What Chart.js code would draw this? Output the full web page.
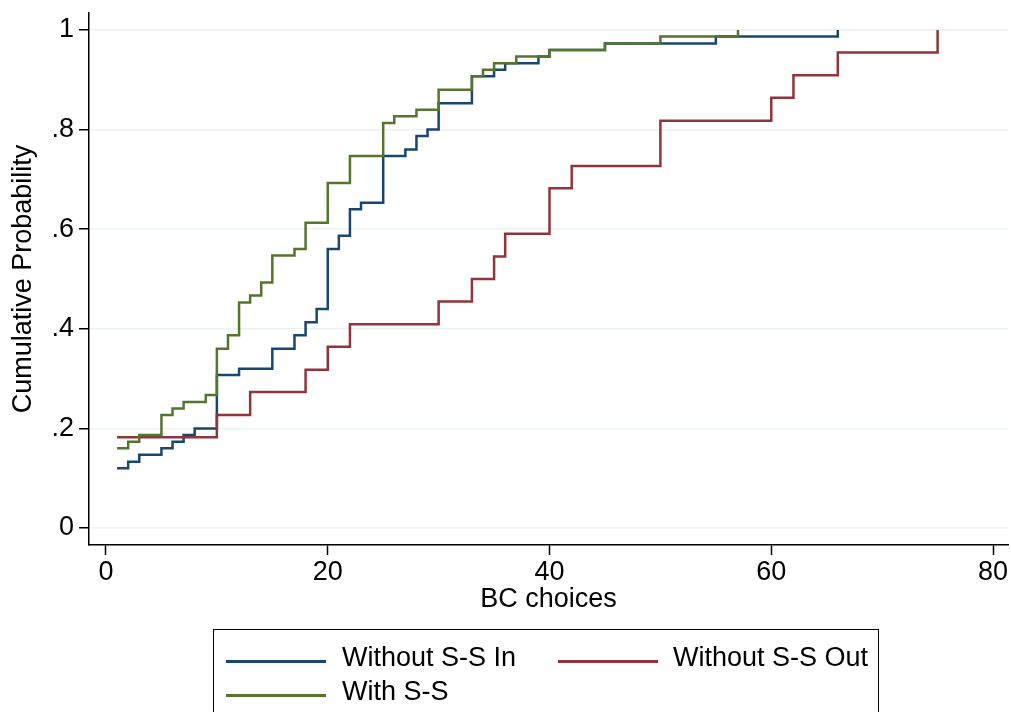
<!DOCTYPE html>
<html>
<head>
<meta charset="utf-8">
<script src="https://cdn.jsdelivr.net/npm/chart.js@4"></script>
<style>
  html, body { margin: 0; padding: 0; background: #fff; overflow: hidden; }
  #wrap { position: relative; width: 1011px; height: 712px; font-family: "Liberation Sans", Arial, sans-serif; }
  #chart { position: absolute; left: 0; top: 0; }
  #legend { position: absolute; left: 213px; top: 629px; width: 666px; height: 120px; border: 1.5px solid #000; box-sizing: border-box; }
  .swatch { position: absolute; height: 2.5px; width: 100px; }
  .lbl { position: absolute; font-size: 27px; line-height: 34px; color: #000; white-space: nowrap; }
</style>
</head>
<body>
<div id="wrap">
  <canvas id="chart" width="1011" height="712"></canvas>
  <div id="legend"></div>
</div>
<script>
// --- datos (CDF empírica por grupo) ---
const xTicks = [0, 20, 40, 60, 80];
const yTicks = [0, 0.2, 0.4, 0.6, 0.8, 1];
const yTickLabels = ['0', '.2', '.4', '.6', '.8', '1'];

const seriesNames = ['Without S-S In', 'Without S-S Out', 'With S-S'];
const seriesColors = ['#1a476f', '#90353b', '#55752f'];

// Without S-S In
const inX = [1, 2, 3, 5, 6, 7, 8, 10, 12, 15, 17, 18, 19, 20, 21, 22, 23, 25, 27, 28, 29, 30, 33, 35, 36, 39, 40, 45, 55, 66];
const inY = [0.12, 0.133, 0.147, 0.16, 0.173, 0.187, 0.2, 0.307, 0.32, 0.36, 0.387, 0.413, 0.44, 0.56, 0.587, 0.64, 0.653, 0.747, 0.76, 0.787, 0.8, 0.853, 0.907, 0.92, 0.933, 0.947, 0.96, 0.973, 0.987, 1];

// Without S-S Out
const outX = [1, 10, 13, 18, 20, 22, 30, 33, 35, 36, 40, 42, 50, 60, 62, 66, 75];
const outY = [0.182, 0.227, 0.273, 0.318, 0.364, 0.409, 0.455, 0.5, 0.545, 0.591, 0.682, 0.727, 0.818, 0.864, 0.909, 0.955, 1];

// With S-S
const withX = [1, 2, 3, 5, 6, 7, 9, 10, 11, 12, 13, 14, 15, 17, 18, 20, 22, 25, 26, 28, 30, 33, 34, 35, 37, 40, 45, 50, 57];
const withY = [0.16, 0.173, 0.187, 0.227, 0.24, 0.253, 0.267, 0.36, 0.387, 0.453, 0.467, 0.493, 0.547, 0.56, 0.613, 0.693, 0.747, 0.813, 0.827, 0.84, 0.88, 0.907, 0.92, 0.933, 0.947, 0.96, 0.973, 0.987, 1];

const FONT = '"Liberation Sans", Arial, sans-serif';

function puntos(xs, ys) {
    return xs.map((x, i) => ({ x: x, y: ys[i] }));
}

function serie(i, xs, ys, orden) {
    return {
        label: seriesNames[i],
        data: puntos(xs, ys),
        borderColor: seriesColors[i],
        borderWidth: 2.5,
        pointRadius: 0,
        stepped: true,
        fill: false,
        order: orden
    };
}

// sin relleno extra por la mitad de las etiquetas en los extremos
function sinPadding(s) {
    s.paddingTop = 0;
    s.paddingBottom = 0;
    s.paddingLeft = 0;
    s.paddingRight = 0;
}

new Chart(document.getElementById('chart'), {
    type: 'line',
    data: {
        datasets: [
            serie(0, inX, inY, 2),
            serie(1, outX, outY, 1),
            serie(2, withX, withY, 0)
        ]
    },
    options: {
        responsive: false,
        animation: false,
        layout: { padding: { left: 0, right: 3, top: 13, bottom: 95 } },
        plugins: { legend: { display: false }, tooltip: { enabled: false } },
        scales: {
            x: {
                type: 'linear',
                min: -1.533,
                max: 81.35,
                afterFit: s => { s.height = 72; sinPadding(s); },
                afterBuildTicks: s => { s.ticks = xTicks.map(v => ({ value: v })); },
                border: { display: true, color: '#000', width: 1.5 },
                grid: { drawOnChartArea: false, drawTicks: true, tickLength: 10, tickColor: '#000', tickWidth: 1.5 },
                ticks: { padding: 1, color: '#000', font: { family: FONT, size: 27 }, maxRotation: 0, autoSkip: false },
                title: { display: true, text: 'BC choices', color: '#000', font: { family: FONT, size: 27 }, padding: { top: 0, bottom: 1 } }
            },
            y: {
                type: 'linear',
                min: -0.0341,
                max: 1.0341,
                afterFit: s => { s.width = 89; sinPadding(s); },
                afterBuildTicks: s => { s.ticks = yTicks.map(v => ({ value: v })); },
                border: { display: true, color: '#000', width: 1.5 },
                grid: { color: '#eaf2f3', lineWidth: 1.5, drawTicks: true, tickLength: 10, tickColor: '#000', tickWidth: 1.5 },
                ticks: {
                    padding: 5,
                    color: '#000',
                    font: { family: FONT, size: 27 },
                    autoSkip: false,
                    callback: v => yTickLabels[yTicks.indexOf(v)]
                },
                title: { display: true, text: 'Cumulative Probability', color: '#000', font: { family: FONT, size: 27 }, padding: { top: 7, bottom: 0 } }
            }
        }
    }
});

// --- leyenda en recuadro (dos columnas, como en el original) ---
const legendPos = [
    { sx: 12, sy: 30, tx: 128, ty: 10 },
    { sx: 344, sy: 30, tx: 459, ty: 10 },
    { sx: 12, sy: 64, tx: 128, ty: 44 }
];
const legend = document.getElementById('legend');
seriesNames.forEach((name, i) => {
    const p = legendPos[i];
    const sw = document.createElement('div');
    sw.className = 'swatch';
    sw.style.left = p.sx + 'px';
    sw.style.top = p.sy + 'px';
    sw.style.background = seriesColors[i];
    legend.appendChild(sw);
    const t = document.createElement('span');
    t.className = 'lbl';
    t.style.left = p.tx + 'px';
    t.style.top = p.ty + 'px';
    t.textContent = name;
    legend.appendChild(t);
});
</script>
</body>
</html>
